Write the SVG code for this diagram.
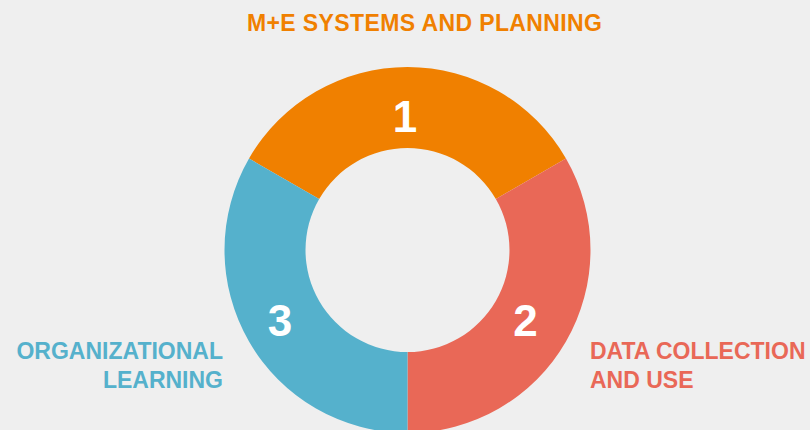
<svg xmlns="http://www.w3.org/2000/svg" width="810" height="430" viewBox="0 0 810 430">
  <style>
    .lbl { font-family: "Liberation Sans", Arial, sans-serif; font-weight: bold; font-size: 23px; }
    .num { font-family: "Liberation Sans", Arial, sans-serif; font-weight: bold; font-size: 44px; fill: #FFFFFF; text-anchor: middle; }
    .orange { fill: #F08000; }
    .red { fill: #E96857; }
    .teal { fill: #55B1CC; }
  </style>
  <rect x="0" y="0" width="810" height="430" fill="#EFEFEF"/>
  <g id="segment-1">
    <path class="orange" d="M 249.02 158.5 A 183 183 0 0 1 565.98 158.5 L 495.83 199 A 102 102 0 0 0 319.17 199 Z"/>
    <text class="num" x="405" y="131.5">1</text>
    <text class="lbl" x="247" y="31" fill="#F08000" font-size="23.9" textLength="355" lengthAdjust="spacing">M+E SYSTEMS AND PLANNING</text>
  </g>
  <g id="segment-2">
    <path class="red" d="M 565.98 158.5 A 183 183 0 0 1 407.5 433 L 407.5 352 A 102 102 0 0 0 495.83 199 Z"/>
    <text class="num" x="525.5" y="336">2</text>
    <text class="lbl" x="590" y="359" fill="#E96857">DATA COLLECTION</text>
    <text class="lbl" x="590" y="387.5" fill="#E96857">AND USE</text>
  </g>
  <g id="segment-3">
    <path class="teal" d="M 407.5 433 A 183 183 0 0 1 249.02 158.5 L 319.17 199 A 102 102 0 0 0 407.5 352 Z"/>
    <text class="num" x="280" y="336">3</text>
    <text class="lbl" x="223" y="358.5" text-anchor="end" fill="#55B1CC">ORGANIZATIONAL</text>
    <text class="lbl" x="223" y="387.5" text-anchor="end" fill="#55B1CC">LEARNING</text>
  </g>
  <g id="connectors"/>
</svg>
